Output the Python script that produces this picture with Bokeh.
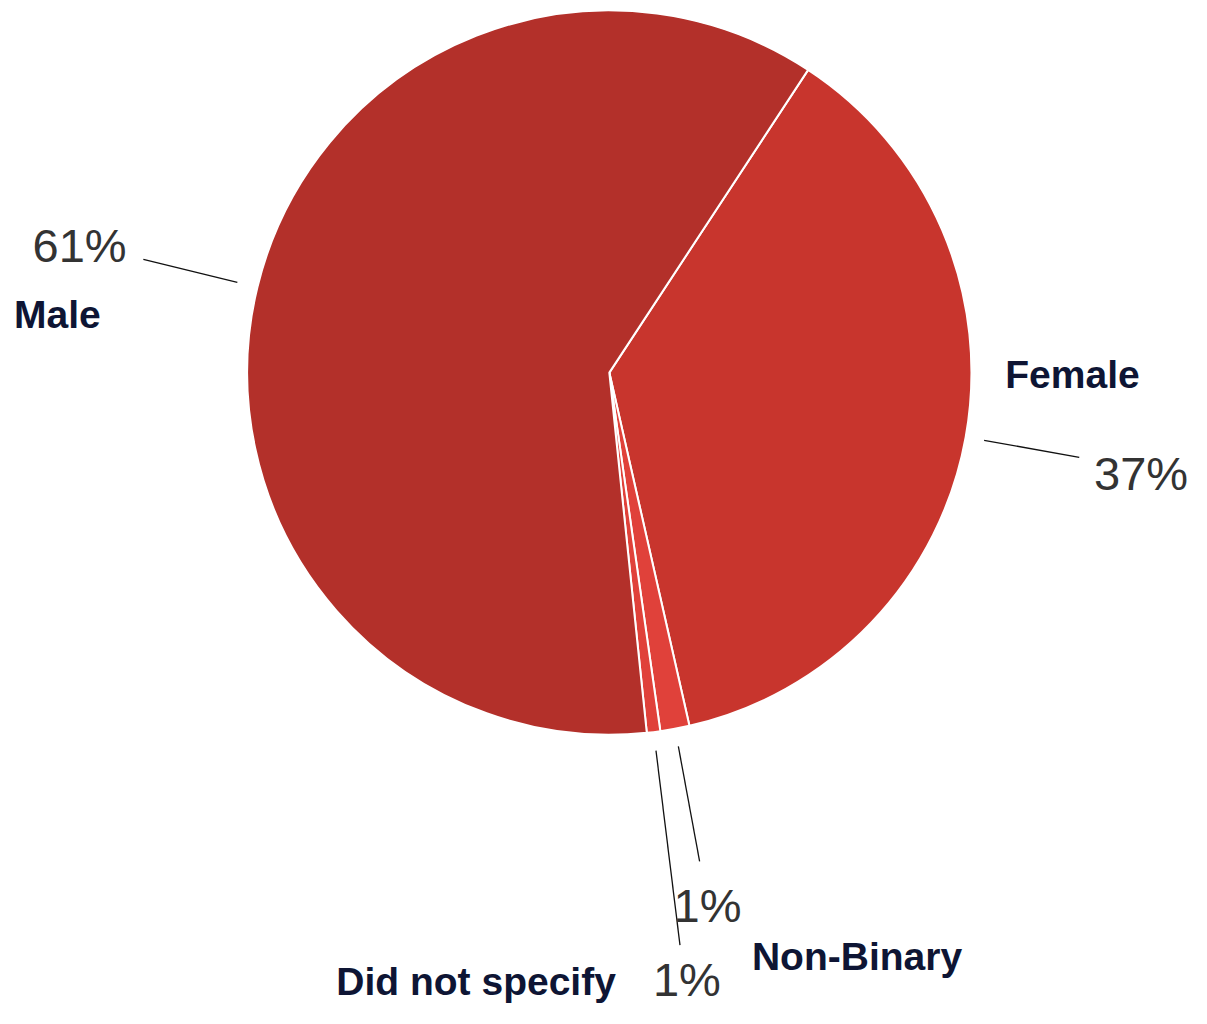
import math
from bokeh.plotting import figure
from bokeh.models import Range1d, ColumnDataSource
from bokeh.core.properties import value
from bokeh.embed import file_html
from bokeh.resources import INLINE

# ---- data ----
categories = ["Female", "Non-Binary", "Did not specify", "Male"]
shares = [37.2, 1.3, 0.6, 60.9]
pct_labels = ["37%", "1%", "1%", "61%"]

# ---- style ----
colors = ["#C8352D", "#E0413A", "#E0413A", "#B3302A"]
start_deg = 33.3          # clockwise from 12 o'clock
R = 367
lead_r0 = [386, 386, 387, 388]
lead_r1 = [484, 505, 586, 486]
pct_off = [(15, -16), (8, -45), (7, -35), (-17, 14)]
pct_align = ["left", "center", "center", "right"]
cat_off = [(-75, 84), (53, -97), (-65, -37), (-131, -56)]
cat_align = ["left", "left", "right", "left"]

W, H = 1191, 1008
REF_W, REF_H = 1207, 1024
CX, CY = 617, 378   # pie centre in reference layout units
p = figure(width=W, height=H, output_backend="svg", toolbar_location=None,
           x_range=Range1d(-CX, REF_W - CX), y_range=Range1d(CY - REF_H, CY),
           x_axis_location=None, y_axis_location=None, min_border=0)
p.grid.visible = False
p.outline_line_color = None

total = sum(shares)
starts, ends, mids = [], [], []
acc = start_deg
for s in shares:
    a0 = acc
    a1 = acc + s / total * 360.0
    starts.append(math.radians(90 - a0))
    ends.append(math.radians(90 - a1))
    mids.append(math.radians(90 - (a0 + a1) / 2))
    acc = a1

src = ColumnDataSource(dict(start=starts, end=ends, color=colors, cat=categories))
p.wedge(x=0, y=0, radius=R, start_angle="start", end_angle="end", direction="clock",
        fill_color="color", line_color="white", line_width=2, source=src)

x0 = [r * math.cos(m) for r, m in zip(lead_r0, mids)]
y0 = [r * math.sin(m) for r, m in zip(lead_r0, mids)]
x1 = [r * math.cos(m) for r, m in zip(lead_r1, mids)]
y1 = [r * math.sin(m) for r, m in zip(lead_r1, mids)]
p.segment(x0=x0, y0=y0, x1=x1, y1=y1, line_color="#111111", line_width=1.3)

pct_src = ColumnDataSource(dict(
    x=[a + o[0] for a, o in zip(x1, pct_off)],
    y=[b + o[1] for b, o in zip(y1, pct_off)],
    t=pct_labels, al=pct_align))
p.text(x="x", y="y", text="t", text_align="al", text_baseline="middle",
       text_font=value("Liberation Sans"), text_font_size="47px",
       text_color="#333333", source=pct_src)

cat_src = ColumnDataSource(dict(
    x=[a + o[0] for a, o in zip(x1, cat_off)],
    y=[b + o[1] for b, o in zip(y1, cat_off)],
    t=categories, al=cat_align))
p.text(x="x", y="y", text="t", text_align="al", text_baseline="middle",
       text_font=value("Liberation Sans"), text_font_size="39px",
       text_font_style="bold", text_color="#0E1534", source=cat_src)

open("out.html", "w").write(file_html(p, INLINE))
